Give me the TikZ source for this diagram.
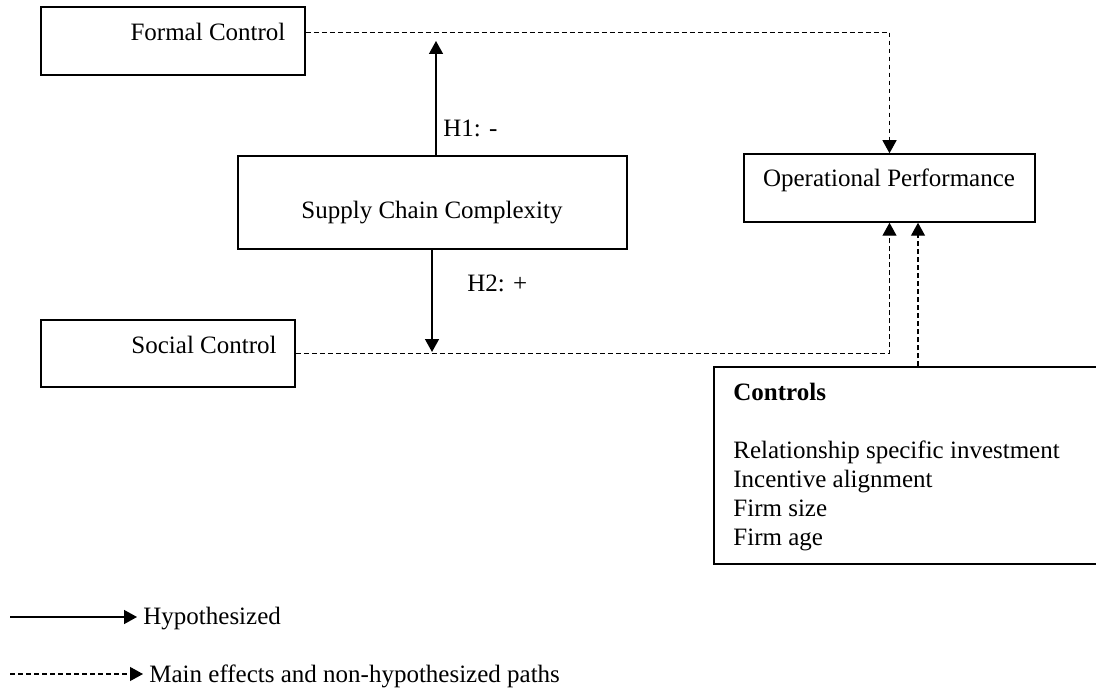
\documentclass[tikz,border=0pt]{standalone}
\usepackage{fontspec}
\setmainfont{Liberation Serif}
\usetikzlibrary{arrows.meta,fit,positioning}

\begin{document}
\begin{tikzpicture}[
  x=0.5pt, y=-0.5pt,
  construct/.style={draw, line width=0.75pt, inner sep=0pt},
  note/.style={font=\fontsize{12.5}{14.5}\selectfont, inner sep=0pt},
  hyppath/.style={-{Triangle[length=6.5pt,width=7pt]}, line width=0.75pt},
  mainpath/.style={-{Triangle[length=6.5pt,width=7pt]}, line width=0.6pt, dash pattern=on 2.4pt off 1.6pt},
  legendpath/.style={shorten >=3pt},
]
  \useasboundingbox (0,0) rectangle (1096,689);

  % Formal control ----------------------------------------------------------
  \node[construct, fit={(41,7) (305,75)}] (formal) {};
  \node[note, anchor=base] (formaltext) at (208,41) {Formal Control};

  % Supply chain complexity -------------------------------------------------
  \node[construct, fit={(238,156) (627,249)}] (scc) {};
  \node[note, anchor=base] (scctext) at (432,219) {Supply Chain Complexity};

  % Social control ----------------------------------------------------------
  \node[construct, fit={(41,320) (295,387)}] (social) {};
  \node[note, anchor=base east] (socialtext) at (277,353) {Social Control};

  % Operational performance -------------------------------------------------
  \node[construct, fit={(744,154) (1035,222)}] (perf) {};
  \node[note, anchor=base] (perftext) at (889,187) {Operational Performance};

  % Controls ----------------------------------------------------------------
  \node[construct, fit={(714,367) (1100,564)}] (controls) {};
  \node[note, anchor=north west, align=left] (controlstext) at (733,383)
    {\textbf{Controls}\\[14.5pt] Relationship specific investment\\ Incentive alignment\\ Firm size\\ Firm age};

  % Hypothesized paths ------------------------------------------------------
  \coordinate (h1tip) at (436,41);
  \coordinate (h2tip) at (432,352);
  \draw[hyppath] (scc.north -| h1tip) -- (h1tip);
  \draw[hyppath] (scc.south -| h2tip) -- (h2tip);
  \node[note, anchor=base west] (h1label) at (443,137) {H1: -};
  \node[note, anchor=base west] (h2label) at (467,292) {H2: +};

  % Main effects ------------------------------------------------------------
  \coordinate (ctrlout) at (918,367);
  \draw[mainpath] (formal.east |- formaltext) -| (perf.north);
  \draw[mainpath] (social.east) -| (perf.south);
  \draw[mainpath] (controls.north -| ctrlout) -- (perf.south -| ctrlout);

  % Legend ------------------------------------------------------------------
  \node[note, anchor=base west] (hyplegend) at (143,624) {Hypothesized};
  \node[note, anchor=base west] (mainlegend) at (149,682) {Main effects and non-hypothesized paths};
  \coordinate (hypfrom) at (10,617);
  \coordinate (mainfrom) at (10,674);
  \draw[hyppath, legendpath] (hypfrom) -- (hypfrom -| hyplegend.west);
  \draw[mainpath, legendpath] (mainfrom) -- (mainfrom -| mainlegend.west);
\end{tikzpicture}
\end{document}
